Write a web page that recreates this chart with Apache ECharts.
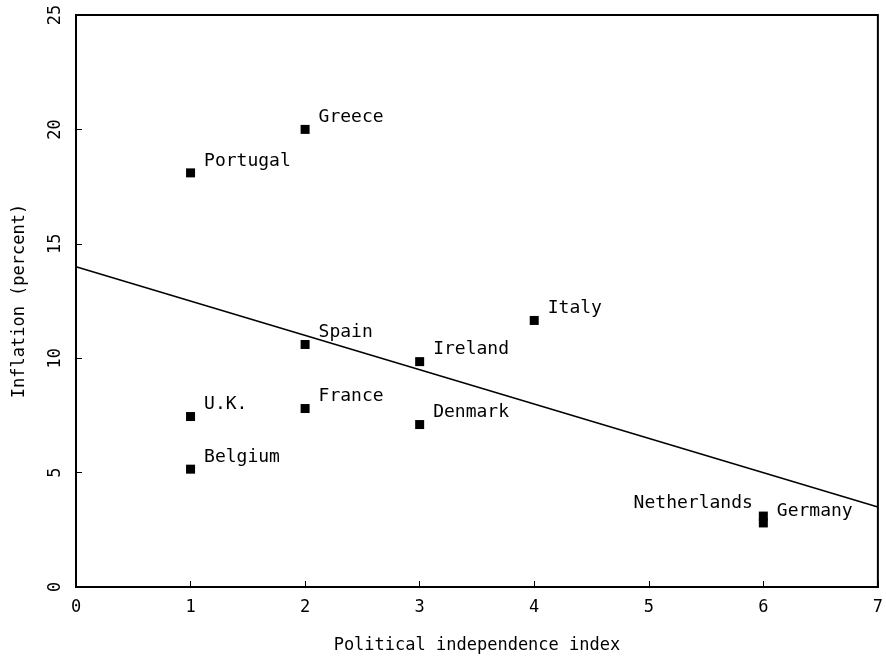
<!DOCTYPE html>
<html>
<head>
<meta charset="utf-8">
<script src="https://cdn.jsdelivr.net/npm/echarts@6/dist/echarts.min.js"></script>
<style>
  html, body { margin: 0; padding: 0; background: #fff; }
  #chart { width: 886px; height: 661px; }
</style>
</head>
<body>
<div id="chart"></div>
<script>
// countries, political independence index and inflation (percent)
const countries = ['Portugal', 'Greece', 'Spain', 'Italy', 'Ireland', 'France', 'U.K.', 'Denmark', 'Belgium', 'Netherlands', 'Germany']
const independence = [1, 2, 2, 4, 3, 2, 1, 3, 1, 6, 6]
const inflation = [18.1, 20.0, 10.6, 11.65, 9.85, 7.8, 7.45, 7.1, 5.15, 3.1, 2.8]
// fitted line end points
const fitX = [0, 7]
const fitY = [14.0, 3.5]
const xTicks = [0, 1, 2, 3, 4, 5, 6, 7]
const yTicks = [0, 5, 10, 15, 20, 25]

const FONT = 'DejaVu Sans Mono'

let chart = echarts.init(document.getElementById('chart'))

let points = countries.map((name, i) => {
  let item = { name: name, value: [independence[i], inflation[i]] }
  if (name === 'Netherlands') {
    item.label = { position: 'left', offset: [-1, -13] }
  }
  return item
})

let option = {
  animation: false,
  grid: {
    left: 76,
    right: 7,
    top: 15,
    bottom: 74,
    show: true,
    borderColor: '#000',
    borderWidth: 2,
  },
  xAxis: {
    type: 'value',
    min: xTicks[0],
    max: xTicks[xTicks.length - 1],
    interval: 1,
    name: 'Political independence index',
    nameLocation: 'middle',
    nameGap: 50,
    nameTextStyle: { color: '#000', fontFamily: FONT, fontSize: 17 },
    axisLine: { lineStyle: { color: '#000', width: 2 } },
    axisTick: { inside: true, length: 6, lineStyle: { color: '#000' } },
    axisLabel: { color: '#000', fontFamily: FONT, fontSize: 17, margin: 12 },
    splitLine: { show: false },
  },
  yAxis: {
    type: 'value',
    min: yTicks[0],
    max: yTicks[yTicks.length - 1],
    interval: 5,
    name: 'Inflation (percent)',
    nameLocation: 'middle',
    nameGap: 48,
    nameTextStyle: { color: '#000', fontFamily: FONT, fontSize: 17 },
    axisLine: { lineStyle: { color: '#000', width: 2 } },
    axisTick: { inside: true, length: 6, lineStyle: { color: '#000' } },
    axisLabel: { color: '#000', fontFamily: FONT, fontSize: 17, rotate: 90, margin: 12 },
    splitLine: { show: false },
  },
  series: [
    {
      type: 'line',
      data: fitX.map((x, i) => [x, fitY[i]]),
      showSymbol: false,
      lineStyle: { color: '#000', width: 1.5 },
      z: 1,
    },
    {
      type: 'scatter',
      data: points,
      symbol: 'rect',
      symbolSize: 9,
      itemStyle: { color: '#000', opacity: 1 },
      label: {
        show: true,
        position: 'right',
        offset: [4, -12],
        formatter: '{b}',
        color: '#000',
        fontFamily: FONT,
        fontSize: 18,
      },
      z: 2,
    },
  ],
}
chart.setOption(option)
</script>
</body>
</html>
